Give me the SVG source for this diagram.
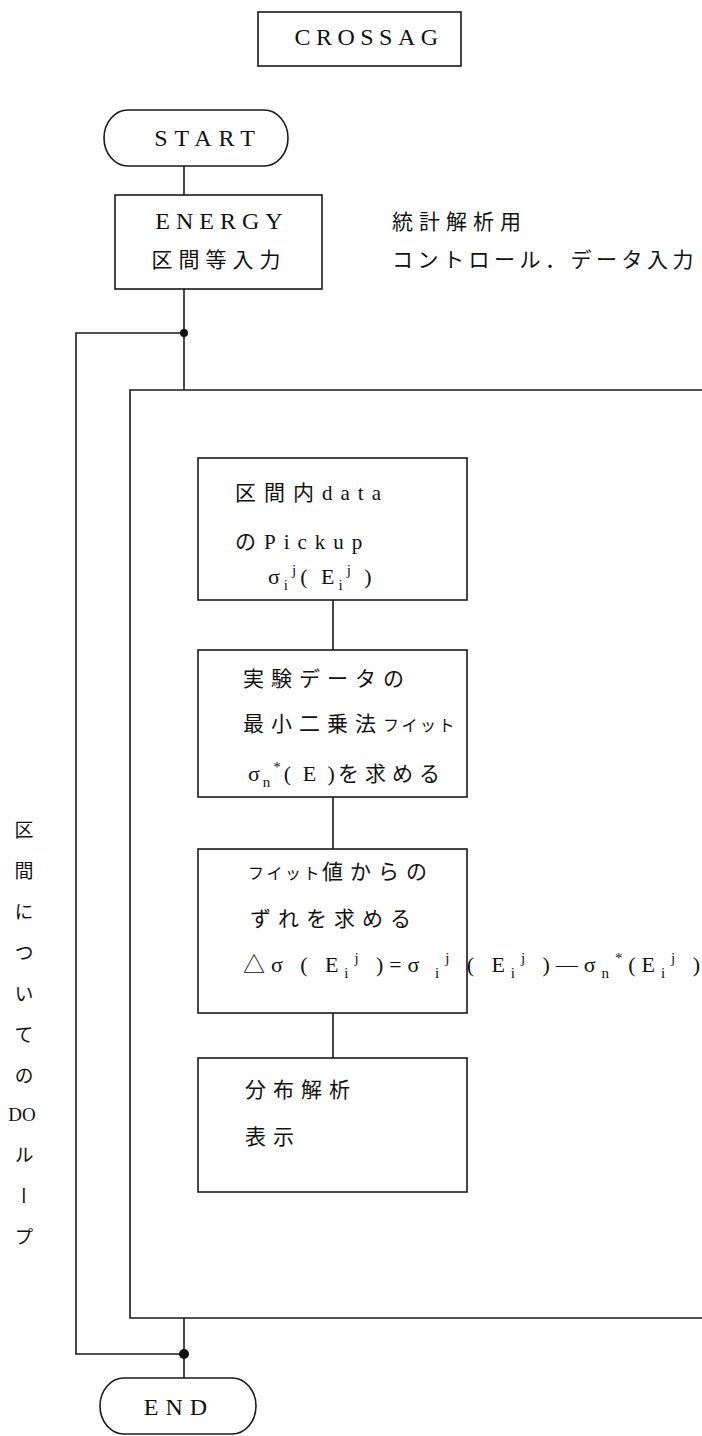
<svg xmlns="http://www.w3.org/2000/svg" width="702" height="1436" viewBox="0 0 702 1436">
<style>
.ln{fill:none;stroke:#1a1a1a;stroke-width:1.6}
.bx{fill:none;stroke:#1a1a1a;stroke-width:1.6}
.t{font-family:"Liberation Serif","Noto Sans CJK JP",serif;font-size:22px;fill:#111}
.big{font-family:"Liberation Serif",serif;font-size:24px;fill:#111}
.j{font-family:"Liberation Serif","Noto Sans CJK JP",serif;font-size:21px;fill:#111}
.sub{font-size:15px}
.vt{font-family:"Liberation Serif","Noto Sans CJK JP",serif;font-size:19px;fill:#111}
.dot{fill:#111}
</style>
<rect width="702" height="1436" fill="#fff"/>
<g id="title">
<rect class="bx" x="258" y="12" width="203" height="54"/>
<text class="big" x="369" y="45" text-anchor="middle" letter-spacing="5.5" font-size="26">CROSSAG</text>
</g>
<g id="connectors">
<path class="ln" d="M184,166 V195"/>
<path class="ln" d="M184,289 V390"/>
<path class="ln" d="M184,333 H76 V1354 H184"/>
<path class="ln" d="M184,1318 V1378"/>
<path class="ln" d="M333,600 V650"/>
<path class="ln" d="M333,797 V849"/>
<path class="ln" d="M333,1013 V1058"/>
<circle class="dot" cx="184" cy="333" r="4"/>
<circle class="dot" cx="184" cy="1354" r="5"/>
</g>
<g id="start">
<path class="bx" d="M128,110 H264 A24,28 0 0 1 264,166 H128 A24,28 0 0 1 128,110 Z"/>
<text class="big" x="208" y="146" text-anchor="middle" letter-spacing="7">START</text>
</g>
<g id="energy">
<rect class="bx" x="115" y="195" width="207" height="94"/>
<text class="big" x="222" y="229" text-anchor="middle" letter-spacing="6">ENERGY</text>
<text class="j" x="219" y="267" text-anchor="middle" letter-spacing="6" font-size="22">区間等入力</text>
</g>
<g id="note">
<text class="j" x="392" y="229" letter-spacing="6">統計解析用</text>
<text class="j" x="392" y="267" letter-spacing="4.5">コントロール．データ入力</text>
</g>
<g id="loop">
<path class="bx" d="M702,390 H130 V1318 H702"/>
<text class="vt" x="22" y="820" style="writing-mode:vertical-rl;letter-spacing:22px">区間についての</text>
<text class="vt" x="22" y="1121" text-anchor="middle">DO</text>
<text class="vt" x="22" y="1145" style="writing-mode:vertical-rl;letter-spacing:22px">ループ</text>
</g>
<g id="pickup">
<rect class="bx" x="198" y="458" width="269" height="142"/>
<text class="j" x="235" y="500" letter-spacing="8">区間内data</text>
<text class="j" x="235" y="549" letter-spacing="8">のPickup</text>
<text class="t" x="268" y="584" letter-spacing="4">σ<tspan class="sub" dy="6">i</tspan><tspan class="sub" dy="-15">j</tspan><tspan dy="9">( E</tspan><tspan class="sub" dy="6">i</tspan><tspan class="sub" dy="-15">j</tspan><tspan dy="9"> )</tspan></text>
</g>
<g id="fit">
<rect class="bx" x="198" y="650" width="269" height="147"/>
<text class="j" x="243" y="686" letter-spacing="7">実験データの</text>
<text class="j" x="243" y="731" letter-spacing="7">最小二乗法<tspan font-size="16" letter-spacing="2.5">フイット</tspan></text>
<text class="t" x="248" y="781" letter-spacing="3">σ<tspan class="sub" dy="6">n</tspan><tspan class="sub" dy="-15">*</tspan><tspan dy="9">( E )</tspan><tspan class="j" letter-spacing="6">を求める</tspan></text>
</g>
<g id="deviation">
<rect class="bx" x="198" y="849" width="269" height="164"/>
<text class="j" x="248" y="879" letter-spacing="7"><tspan font-size="16" letter-spacing="2.5">フイット</tspan>値からの</text>
<text class="j" x="250" y="926" letter-spacing="7">ずれを求める</text>
<text class="t" x="243" y="972" textLength="457" lengthAdjust="spacing">△σ ( E<tspan class="sub" dy="6">i</tspan><tspan class="sub" dy="-15">j</tspan><tspan dy="9"> )=σ</tspan><tspan class="sub" dy="6"> i</tspan><tspan class="sub" dy="-15">j</tspan><tspan dy="9"> ( E</tspan><tspan class="sub" dy="6">i</tspan><tspan class="sub" dy="-15">j</tspan><tspan dy="9"> )—σ</tspan><tspan class="sub" dy="6">n</tspan><tspan class="sub" dy="-15">*</tspan><tspan dy="9">(E</tspan><tspan class="sub" dy="6">i</tspan><tspan class="sub" dy="-15">j</tspan><tspan dy="9"> )</tspan></text>
</g>
<g id="analysis">
<rect class="bx" x="198" y="1058" width="269" height="134"/>
<text class="j" x="245" y="1097" letter-spacing="7">分布解析</text>
<text class="j" x="245" y="1144" letter-spacing="7">表示</text>
</g>
<g id="end">
<path class="bx" d="M124,1378 H232 A24,28 0 0 1 232,1434 H124 A24,28 0 0 1 124,1378 Z"/>
<text class="big" x="179" y="1415" text-anchor="middle" letter-spacing="7">END</text>
</g>
</svg>
